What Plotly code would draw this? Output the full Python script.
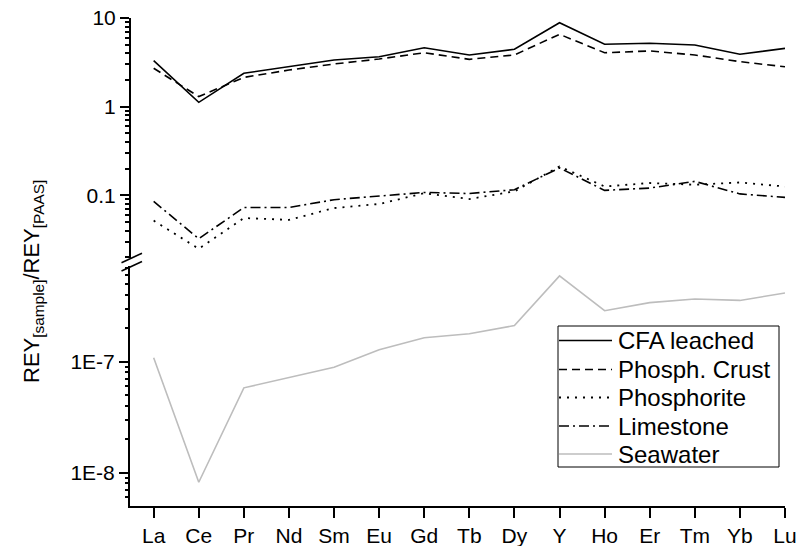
import plotly.graph_objects as go

# Rare earth elements + yttrium, PAAS-normalised
elements = ["La", "Ce", "Pr", "Nd", "Sm", "Eu", "Gd", "Tb", "Dy", "Y", "Ho", "Er", "Tm", "Yb", "Lu"]

cfa_leached = [3.3, 1.12, 2.38, 2.82, 3.36, 3.66, 4.62, 3.83, 4.44, 8.85, 5.05, 5.19, 4.96, 3.9, 4.55]
phosph_crust = [2.71, 1.3, 2.14, 2.59, 3.03, 3.45, 4.06, 3.42, 3.83, 6.55, 4.06, 4.25, 3.83, 3.22, 2.82]
phosphorite = [0.052, 0.025, 0.0556, 0.053, 0.072, 0.08, 0.106, 0.091, 0.111, 0.212, 0.126, 0.138, 0.132, 0.14, 0.126]
limestone = [0.0856, 0.0325, 0.073, 0.073, 0.0895, 0.0975, 0.108, 0.105, 0.116, 0.204, 0.114, 0.121, 0.144, 0.104, 0.095]
seawater = [1.08e-7, 8.2e-9, 5.8e-8, 7.2e-8, 8.9e-8, 1.28e-7, 1.64e-7, 1.78e-7, 2.11e-7, 5.9e-7,
            2.87e-7, 3.39e-7, 3.66e-7, 3.55e-7, 4.14e-7]

series_names = ["CFA leached", "Phosph. Crust", "Phosphorite", "Limestone", "Seawater"]

upper_ticks = [10, 1, 0.1]
upper_ticktext = ["10", "1", "0.1"]
lower_ticks = [1e-7, 1e-8]
lower_ticktext = ["1E-7", "1E-8"]

# plot-area geometry in page pixels
W_PAGE, H_PAGE = 800, 546
L, R, T, B = 130, 785, 18, 506
PW, PH = R - L, B - T


def px(x):
    return (x - L) / PW


def py(y):
    return (B - y) / PH


BLACK = "#000000"
GREY = "#bdbdbd"
FONT = "Liberation Sans, Arial, sans-serif"
styles = {
    "CFA leached": dict(color=BLACK, width=1.6, dash="solid"),
    "Phosph. Crust": dict(color=BLACK, width=1.6, dash="8px,5px"),
    "Phosphorite": dict(color=BLACK, width=1.8, dash="2px,6px"),
    "Limestone": dict(color=BLACK, width=1.6, dash="10px,4px,2px,4px"),
    "Seawater": dict(color=GREY, width=1.6, dash="solid"),
}

fig = go.Figure()
for name, vals in zip(series_names[:4], [cfa_leached, phosph_crust, phosphorite, limestone]):
    fig.add_trace(go.Scatter(x=elements, y=vals, mode="lines", name=name,
                             line=styles[name], xaxis="x", yaxis="y2", showlegend=False))
fig.add_trace(go.Scatter(x=elements, y=seawater, mode="lines", name="Seawater",
                         line=styles["Seawater"], xaxis="x", yaxis="y", showlegend=False))
# empty traces so the minor-tick overlay axes get drawn
for ax in ("y3", "y4"):
    fig.add_trace(go.Scatter(x=[], y=[], mode="lines", xaxis="x", yaxis=ax,
                             showlegend=False, hoverinfo="skip"))


def minor_vals(e0, e1):
    return [d * 10.0 ** e for e in range(e0, e1) for d in range(2, 10)]


tickfont = dict(family=FONT, size=21, color=BLACK)
axis_common = dict(showline=True, linewidth=2, linecolor=BLACK, ticks="outside",
                   tickwidth=1.6, tickcolor=BLACK, showgrid=False, automargin=False,
                   zeroline=False, tickfont=tickfont)
# tick-only overlay axes carrying the short minor ticks
minor_common = dict(type="log", showline=False, ticks="outside", ticklen=5, tickwidth=1.6,
                    tickcolor=BLACK, showgrid=False, zeroline=False, showticklabels=False,
                    tickmode="array", anchor="free", position=0, automargin=False)

lower_domain = [0, py(266)]
upper_domain = [py(257.5), 1]
lower_range = [-8.30, -6.14]
upper_range = [-1.70, 1.0]

fig.update_layout(
    template="none",
    width=W_PAGE, height=H_PAGE,
    margin=dict(l=L, r=W_PAGE - R, t=T, b=H_PAGE - B, autoexpand=False),
    paper_bgcolor="white", plot_bgcolor="white",
    xaxis=dict(type="category", range=[-0.525, 14], anchor="y", ticklen=10, **axis_common),
    yaxis=dict(type="log", domain=lower_domain, range=lower_range, anchor="x", ticklen=9,
               tickmode="array", tickvals=lower_ticks, ticktext=lower_ticktext, **axis_common),
    yaxis2=dict(type="log", domain=upper_domain, range=upper_range, anchor="free", position=0,
                ticklen=9, tickmode="array", tickvals=upper_ticks, ticktext=upper_ticktext,
                **axis_common),
    yaxis3=dict(domain=lower_domain, range=lower_range, overlaying="y",
                tickvals=minor_vals(-9, -6), **minor_common),
    yaxis4=dict(domain=upper_domain, range=upper_range, overlaying="y2",
                tickvals=minor_vals(-2, 1), **minor_common),
    showlegend=False,
)

# axis break marks
shapes = []
for y0 in (262.7, 271.0):
    shapes.append(dict(type="line", xref="paper", yref="paper",
                       x0=px(121.5), y0=py(y0), x1=px(142), y1=py(y0 - 9.5),
                       line=dict(color=BLACK, width=1.6)))

# legend box with line samples
shapes.append(dict(type="rect", xref="paper", yref="paper",
                   x0=px(558), y0=py(467), x1=px(779), y1=py(326),
                   line=dict(color=BLACK, width=1), fillcolor="white", layer="above"))
row_y = [340.5, 369.5, 397.5, 426, 454]
annotations = []
for name, yy in zip(series_names, row_y):
    st = styles[name]
    shapes.append(dict(type="line", xref="paper", yref="paper",
                       x0=px(559), y0=py(yy), x1=px(612), y1=py(yy),
                       line=dict(color=st["color"], width=st["width"], dash=st["dash"]),
                       layer="above"))
    annotations.append(dict(text=name, xref="paper", yref="paper", x=px(616), y=py(yy),
                            xanchor="left", yanchor="middle", showarrow=False,
                            font=dict(family=FONT, size=24, color=BLACK)))

# y-axis title
annotations.append(dict(text="REY<sub>[sample]</sub>/REY<sub>[PAAS]</sub>",
                        xref="paper", yref="paper", x=px(33), y=py(282),
                        xanchor="center", yanchor="middle", textangle=-90,
                        showarrow=False, font=dict(family=FONT, size=22, color=BLACK)))

fig.update_layout(shapes=shapes, annotations=annotations)

fig.write_html("out.html")
